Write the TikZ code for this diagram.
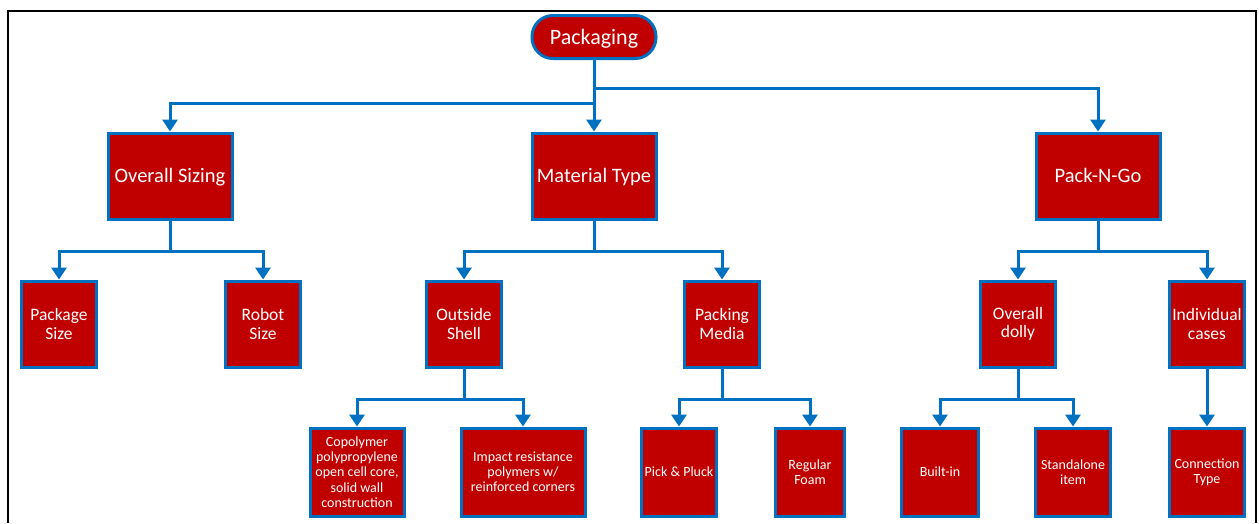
\documentclass[tikz,border=0pt]{standalone}
\usepackage{fontspec}
\setmainfont{Carlito}
\usetikzlibrary{arrows.meta}
\definecolor{boxred}{HTML}{C00000}
\definecolor{linkblue}{HTML}{0070C0}
\tikzset{>/.tip={Triangle[width=15pt,length=12pt]},
  box/.style={draw=linkblue, fill=boxred, line width=3pt, text=white, align=center, inner sep=0pt},
  topbox/.style={box, minimum width=124pt, minimum height=86pt, text height=15.4pt, text depth=2.3pt, font=\fontsize{20.5}{24}\selectfont},
  midbox/.style={box, minimum width=75pt, minimum height=86pt, font=\fontsize{17.5}{18.5}\selectfont},
  lowbox/.style={box, minimum height=88pt, font=\fontsize{14}{15.2}\selectfont},
  link/.style={draw=linkblue, line width=3pt, ->}}

\begin{document}
\begin{tikzpicture}[x=1pt, y=-1pt]
\useasboundingbox (0,0) rectangle (1259,523);
\draw[line width=2pt] (8,523) |- (1256,11) -- (1256,523);

\node[box, rounded corners=21pt, minimum width=124pt, minimum height=43pt, text height=16.5pt, text depth=2.4pt, font=\fontsize{22}{26}\selectfont] (pack) at (594,37) {Packaging};

\node[topbox] (sizing) at (170,176) {Overall Sizing};
\node[topbox] (material) at (594,176) {Material Type};
\node[topbox] (packngo) at (1098,176) {Pack-N-Go};

\node[midbox] (pkgsize) at (59,324) {Package\\Size};
\node[midbox] (robotsize) at (263,324) {Robot\\Size};
\node[midbox] (shell) at (464,324) {Outside\\Shell};
\node[midbox] (media) at (722,324) {Packing\\Media};
\node[midbox] (dolly) at (1018,324) {Overall\\dolly};
\node[midbox] (cases) at (1207,324) {Individual\\cases};

\node[lowbox, minimum width=94pt] (copoly) at (357,472) {Copolymer\\polypropylene\\open cell core,\\solid wall\\construction};
\node[lowbox, minimum width=124pt] (impact) at (523,472) {Impact resistance\\polymers w/\\reinforced corners};
\node[lowbox, minimum width=75pt] (pick) at (679,472) {Pick \& Pluck};
\node[lowbox, minimum width=69pt] (foam) at (810,472) {Regular\\Foam};
\node[lowbox, minimum width=77pt] (builtin) at (940,472) {Built-in};
\node[lowbox, minimum width=75pt] (standalone) at (1073,472) {Standalone\\item};
\node[lowbox, minimum width=75pt] (conntype) at (1207,472) {Connection\\Type};

\draw[link] (pack.south) -- (material.north);
\draw[link] (pack.south) -- ++(0,43) -| (sizing.north);
\draw[link] (pack.south) -- ++(0,28) -| (packngo.north);

\draw[link] (sizing.south) -- ++(0,31) -| (pkgsize.north);
\draw[link] (sizing.south) -- ++(0,31) -| (robotsize.north);
\draw[link] (material.south) -- ++(0,31) -| (shell.north);
\draw[link] (material.south) -- ++(0,31) -| (media.north);
\draw[link] (packngo.south) -- ++(0,31) -| (dolly.north);
\draw[link] (packngo.south) -- ++(0,31) -| (cases.north);

\draw[link] (shell.south) -- ++(0,31) -| (copoly.north);
\draw[link] (shell.south) -- ++(0,31) -| (impact.north);
\draw[link] (media.south) -- ++(0,31) -| (pick.north);
\draw[link] (media.south) -- ++(0,31) -| (foam.north);
\draw[link] (dolly.south) -- ++(0,31) -| (builtin.north);
\draw[link] (dolly.south) -- ++(0,31) -| (standalone.north);
\draw[link] (cases) -- (conntype);
\end{tikzpicture}
\end{document}
